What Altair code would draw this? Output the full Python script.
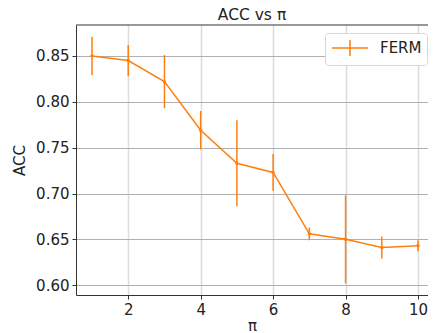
import altair as alt
import pandas as pd

series = "FERM"
pi_vals = [1, 2, 3, 4, 5, 6, 7, 8, 9, 10]
acc_mean = [0.850, 0.845, 0.822, 0.769, 0.733, 0.723, 0.656, 0.650, 0.641, 0.643]
acc_err = [0.021, 0.017, 0.029, 0.021, 0.047, 0.020, 0.007, 0.048, 0.012, 0.006]

Y_LO, Y_HI = 0.5893, 0.8838
X_LO, X_HI = 0.558, 10.276

df = pd.DataFrame({
    "pi": pi_vals,
    "acc": acc_mean,
    "lo": [m - e for m, e in zip(acc_mean, acc_err)],
    "hi": [m + e for m, e in zip(acc_mean, acc_err)],
    "series": [series] * len(pi_vals),
})
frame_df = pd.DataFrame({"top": [Y_HI]})

ORANGE = "#ff7f0e"
FONT = "DejaVu Sans"

x_scale = alt.Scale(domain=[X_LO, X_HI], nice=False, zero=False)
y_scale = alt.Scale(domain=[Y_LO, Y_HI], nice=False, zero=False)

x_enc = alt.X("pi:Q", scale=x_scale, title="π",
              axis=alt.Axis(values=[2, 4, 6, 8, 10], format="d",
                            gridColor="#dcdcdc", gridWidth=1.5))
y_enc = alt.Y("acc:Q", scale=y_scale, title="ACC",
              axis=alt.Axis(values=[0.60, 0.65, 0.70, 0.75, 0.80, 0.85], format=".2f",
                            gridColor="#b0b0b0", gridWidth=1))

color_enc = alt.Color("series:N", scale=alt.Scale(domain=[series], range=[ORANGE]),
                      legend=alt.Legend(title=None, orient="none", legendX=249, legendY=8,
                                        symbolType="M-2,0H2M0,-0.9V0.9",
                                        symbolSize=324, symbolStrokeWidth=1.5,
                                        symbolFillColor="transparent",
                                        symbolStrokeColor=ORANGE,
                                        symbolOffset=10, labelOffset=20,
                                        labelFontSize=15, labelFont=FONT, labelColor="#222",
                                        padding=5, strokeColor="#d8d8d8", cornerRadius=3,
                                        fillColor="white"))

base = alt.Chart(df)

top_border = alt.Chart(frame_df).mark_rule(color="#333", strokeWidth=1).encode(
    y=alt.Y("top:Q", scale=y_scale))
line = base.mark_line(strokeWidth=1.5).encode(x=x_enc, y=y_enc, color=color_enc)
err = base.mark_rule(strokeWidth=1.5, color=ORANGE).encode(
    x="pi:Q", y="lo:Q", y2="hi:Q")
pts = base.mark_circle(size=12, opacity=1, color=ORANGE).encode(x="pi:Q", y="acc:Q")

chart = alt.layer(line, err, pts, top_border).properties(
    width=352, height=270,
    title=alt.Title("ACC vs π", fontSize=15.5, font=FONT, fontWeight="normal",
                    color="#222", offset=1, anchor="middle"),
    autosize=alt.AutoSizeParams(type="none"),
    padding={"left": 68, "top": 17, "right": 0, "bottom": 38},
).configure_view(
    strokeWidth=0
).configure_axis(
    labelFont=FONT, labelFontSize=15, labelColor="#222",
    titleFont=FONT, titleFontSize=15, titleFontWeight="normal", titleColor="#222",
    domainColor="#333", domainWidth=1, tickColor="#333", tickSize=4, tickWidth=1,
    labelPadding=3,
).configure_axisX(titlePadding=1).configure_axisY(titlePadding=8)

chart.save("out.html", embed_options={"renderer": "svg", "actions": False})
